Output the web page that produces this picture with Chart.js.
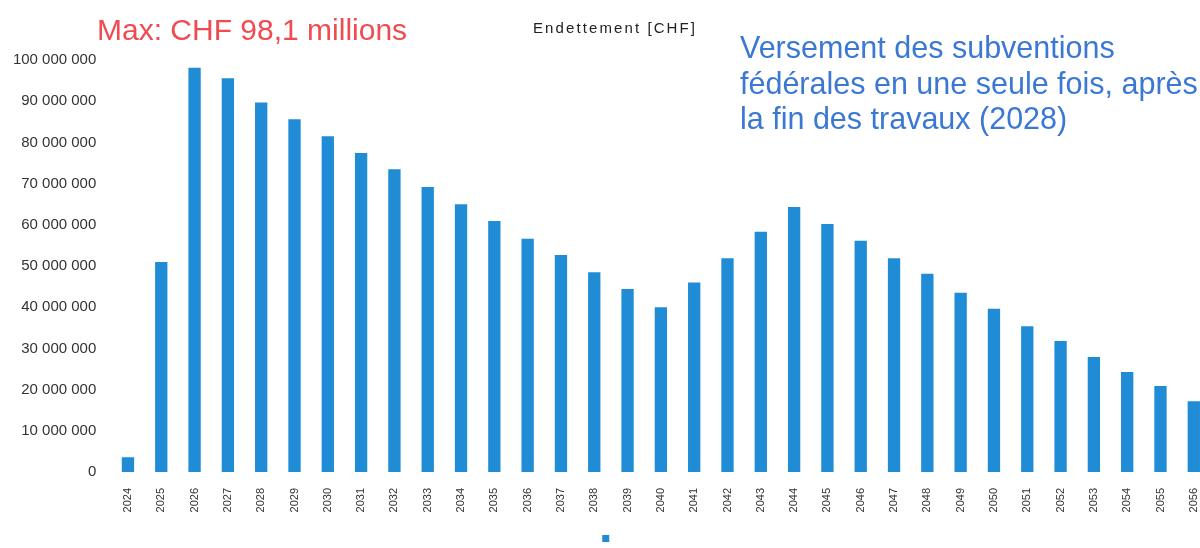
<!DOCTYPE html>
<html lang="fr">
<head>
<meta charset="utf-8">
<title>Endettement (CHF)</title>
<script src="https://cdn.jsdelivr.net/npm/chart.js@4.4.1/dist/chart.umd.min.js"></script>
<style>
  html, body { margin: 0; padding: 0; overflow: hidden; background: #ffffff; width: 1200px; height: 548px; }
  #wrap { position: absolute; left: 0; top: 0; width: 1215px; height: 548px; }
  .note { position: absolute; font-family: "Liberation Sans", Arial, sans-serif; white-space: nowrap; z-index: 2; }
  #maxNote { left: 97px; top: 15px; font-size: 30px; line-height: 30px; color: #ef4b50; }
  #subNote { left: 740px; top: 30px; font-size: 30.5px; line-height: 35.5px; color: #3a78d4; }
  #chartTitle { left: 533px; top: 20px; font-size: 15px; line-height: 16px; letter-spacing: 2.1px; color: #222; font-family: "Liberation Sans", Arial, sans-serif; }
</style>
</head>
<body>
<div id="wrap"><canvas id="c" width="1215" height="548"></canvas></div>
<div class="note" id="chartTitle">Endettement [CHF]</div>
<div class="note" id="maxNote">Max: CHF 98,1 millions</div>
<div class="note" id="subNote">Versement des subventions<br>fédérales en une seule fois, après<br>la fin des travaux (2028)</div>
<script>
// ---- Data ----
const years = ["2024","2025","2026","2027","2028","2029","2030","2031","2032","2033","2034",
  "2035","2036","2037","2038","2039","2040","2041","2042","2043","2044","2045","2046","2047",
  "2048","2049","2050","2051","2052","2053","2054","2055","2056"];
const debtCHF = [3600000, 51000000, 98100000, 95600000, 89700000, 85600000, 81500000, 77400000,
  73500000, 69200000, 65000000, 60900000, 56600000, 52700000, 48500000, 44400000, 40000000,
  46000000, 51900000, 58300000, 64300000, 60200000, 56100000, 51900000, 48100000, 43500000,
  39600000, 35400000, 31800000, 27900000, 24300000, 20900000, 17200000];
const seriesLabel = "";
const yMin = 0, yMax = 100000000, yStep = 10000000;

function fmtSpace(v) { return String(v).replace(/\B(?=(\d{3})+(?!\d))/g, " "); }

new Chart(document.getElementById("c"), {
  type: "bar",
  data: {
    labels: years,
    datasets: [{
      label: seriesLabel,
      data: debtCHF,
      backgroundColor: "rgb(33,140,214)",
      borderWidth: 0,
      categoryPercentage: 1.0,
      barPercentage: 0.37
    }]
  },
  options: {
    responsive: false,
    animation: false,
    devicePixelRatio: 1,
    layout: { padding: { left: 0, right: 0, top: 60, bottom: -4 } },
    plugins: {
      title: { display: false },
      tooltip: { enabled: false },
      legend: {
        display: true,
        position: "bottom",
        labels: { boxWidth: 7, boxHeight: 7, padding: 8, font: { size: 7 }, color: "#333" }
      }
    },
    scales: {
      x: {
        grid: { display: false },
        border: { display: false },
        ticks: {
          minRotation: 90, maxRotation: 90, padding: 8, autoSkip: false,
          color: "#333", font: { family: "Liberation Sans", size: 11 }
        },
        afterFit: (s) => { s.height = 55; }
      },
      y: {
        min: yMin, max: yMax,
        grid: { display: false, drawTicks: false },
        border: { display: false },
        ticks: {
          stepSize: yStep, padding: 15,
          color: "#333", font: { family: "Liberation Sans", size: 15 },
          callback: (v) => fmtSpace(v)
        },
        afterFit: (s) => { s.width = 111.3; }
      }
    }
  }
});
</script>
</body>
</html>
